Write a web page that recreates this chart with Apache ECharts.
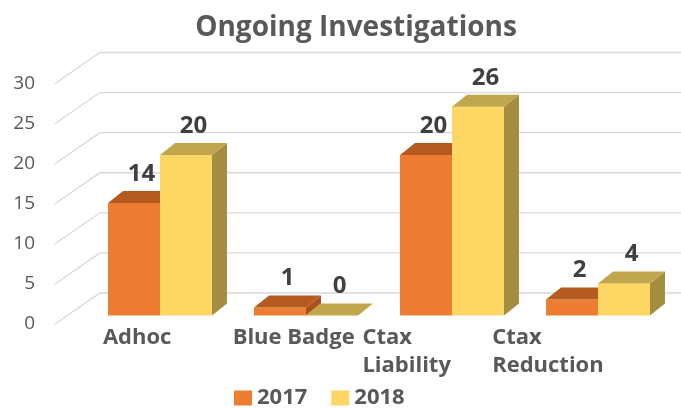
<!DOCTYPE html>
<html><head><meta charset="utf-8">
<script src="https://cdn.jsdelivr.net/npm/echarts@6/dist/echarts.min.js"></script>
<style>html,body{margin:0;padding:0;background:#fff}#c{width:681px;height:409px}</style>
</head><body><div id="c"></div>
<script>
const categories = ['Adhoc', 'Blue Badge', 'Ctax\nLiability', 'Ctax\nReduction'];
const seriesNames = ['2017', '2018'];
const values2017 = [14, 1, 20, 2];
const values2018 = [20, 0, 26, 4];
const yTicks = [0, 5, 10, 15, 20, 25, 30];
const titleText = 'Ongoing Investigations';

const FONT = '"Open Sans", Lato, sans-serif';
const DEPTH = [15, -12];
const WALL = [45, -31];
const colors = [
  { front: '#ED7D31', top: '#B55B1F', side: '#A9531C' },
  { front: '#FDD663', top: '#C2A64B', side: '#A48D3F' }
];

function barRenderer(si) {
  return function (params, api) {
    const cat = api.value(0), v = api.value(1);
    const base = api.coord([cat, 0]);
    const top = api.coord([cat, v]);
    const band = api.size([1, 0])[0];
    const bw = band * 0.356;
    const x0 = base[0] - bw + si * bw;
    const x1 = x0 + bw;
    const c = colors[si];
    const [dx, dy] = DEPTH;
    const children = [];
    if (v > 0) {
      children.push({ type: 'polygon', shape: { points: [[x1, base[1]], [x1 + dx, base[1] + dy], [x1 + dx, top[1] + dy], [x1, top[1]]] }, style: { fill: c.side } });
      children.push({ type: 'rect', shape: { x: x0, y: top[1], width: bw, height: base[1] - top[1] }, style: { fill: c.front } });
    }
    children.push({ type: 'polygon', shape: { points: [[x0, top[1]], [x1, top[1]], [x1 + dx, top[1] + dy], [x0 + dx, top[1] + dy]] }, style: { fill: c.top } });
    children.push({ type: 'text', x: x0 + bw / 2 + dx / 2, y: top[1] + dy - 5, style: { text: String(v), fill: '#404040', font: 'bold 24px ' + FONT, align: 'center', verticalAlign: 'bottom' } });
    return { type: 'group', children };
  };
}

const chart = echarts.init(document.getElementById('c'), null, { renderer: 'canvas' });
chart.setOption({
  animation: false,
  backgroundColor: '#fff',
  graphic: [{ type: 'text', x: 356, y: 28, style: { text: titleText, font: 'bold 28px ' + FONT, fill: '#595959', align: 'center', verticalAlign: 'middle' } }],
  legend: {
    data: seriesNames, left: 229, top: 382, icon: 'rect', itemWidth: 18, itemHeight: 15, itemGap: 24,
    textStyle: { fontFamily: FONT, fontWeight: 'bold', fontSize: 22, color: '#595959' }
  },
  grid: [
    { left: 55, width: 626, top: 83.5, height: 240.5 },
    { left: 87, width: 584, top: 74.6, height: 240.9 },
    { left: 38, width: 519, top: 83.5, height: 240.5 }
  ],
  xAxis: [
    { gridIndex: 0, type: 'value', min: 0, max: 1, show: false },
    { gridIndex: 1, type: 'category', data: categories, show: false },
    { gridIndex: 2, type: 'category', data: categories, axisLine: { show: false }, axisTick: { show: false },
      axisLabel: { align: 'left', margin: 0, interval: 0, fontFamily: FONT, fontWeight: 'bold', fontSize: 22, lineHeight: 28, color: '#595959' } }
  ],
  yAxis: [
    { gridIndex: 0, type: 'value', min: 0, max: 30, interval: 5, splitLine: { show: false }, axisLine: { show: false }, axisTick: { show: false },
      axisLabel: { margin: 20, fontFamily: FONT, fontSize: 19, color: '#595959' } },
    { gridIndex: 1, type: 'value', min: 0, max: 30, show: false },
    { gridIndex: 2, type: 'value', min: 0, max: 30, show: false }
  ],
  series: [
    {
      type: 'custom', xAxisIndex: 0, yAxisIndex: 0, z: 1, silent: true,
      data: yTicks.map(t => [0, t]),
      renderItem: function (params, api) {
        const y = api.coord([0, api.value(1)])[1];
        const cs = params.coordSys;
        return { type: 'polyline', shape: { points: [[cs.x, y], [cs.x + WALL[0], y + WALL[1]], [cs.x + cs.width, y + WALL[1]]] }, style: { stroke: '#D9D9D9', lineWidth: 1.3, fill: null } };
      }
    },
    { name: seriesNames[0], type: 'custom', xAxisIndex: 1, yAxisIndex: 1, z: 2, itemStyle: { color: colors[0].front },
      data: values2017.map((v, i) => [i, v]), renderItem: barRenderer(0) },
    { name: seriesNames[1], type: 'custom', xAxisIndex: 1, yAxisIndex: 1, z: 3, itemStyle: { color: colors[1].front },
      data: values2018.map((v, i) => [i, v]), renderItem: barRenderer(1) }
  ]
});
</script></body></html>
